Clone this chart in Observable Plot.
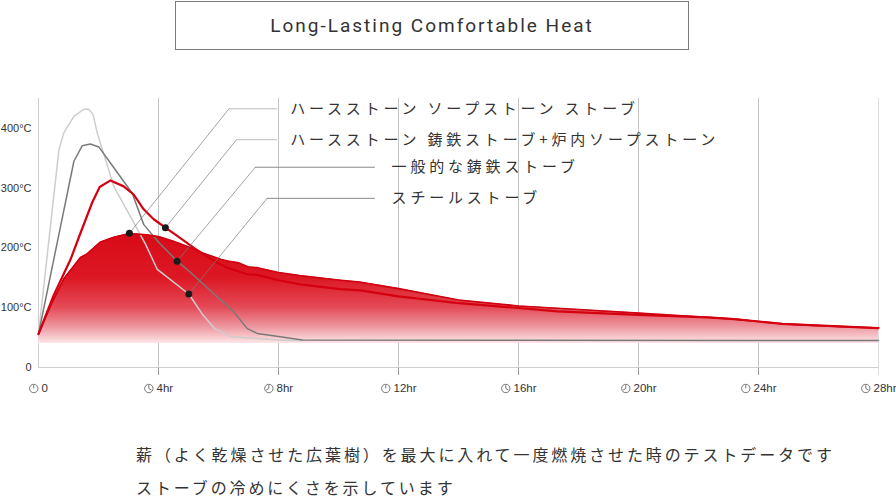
<!DOCTYPE html>
<html><head><meta charset="utf-8">
<script src="https://cdn.jsdelivr.net/npm/d3@7"></script>
<script src="https://cdn.jsdelivr.net/npm/@observablehq/plot@0.6"></script>
<style>
body{margin:0;background:#fff;width:896px;height:500px;position:relative;overflow:hidden;font-family:"Noto Sans CJK JP",sans-serif;}
#title{position:absolute;left:175px;top:1px;width:514px;height:49px;box-sizing:border-box;border:1.5px solid #7a7a7a;display:flex;align-items:center;justify-content:center;font-family:Roboto,sans-serif;font-size:19px;letter-spacing:2px;color:#333;}
#chart{position:absolute;left:0;top:60px;}
#caption{position:absolute;left:136px;top:438px;font-size:16px;letter-spacing:2.9px;line-height:33px;color:#333;white-space:nowrap;}
</style></head><body>
<div id="title">Long-Lasting Comfortable Heat</div>
<div id="chart"></div>
<div id="caption">薪（よく乾燥させた広葉樹）を最大に入れて一度燃焼させた時のテストデータです<br>ストーブの冷めにくさを示しています</div>
<script>
// ---- data (hours since lighting, °C) ----
const soapHours = [0, 0.4, 0.84, 1.4, 1.62, 2.07, 2.51, 3.03, 3.6, 4.0, 4.5, 5.1, 5.4, 6.07, 6.3, 6.68, 7.0, 7.3, 8.0, 8.7, 10.07, 10.7, 12, 14, 16, 18, 20, 22, 23.2, 24, 24.8, 26, 27, 28];
const soapTemp  = [56, 103, 148, 184, 190, 210, 218, 224, 222, 219, 211, 200, 193, 181, 178, 175, 168, 167, 159, 154, 146, 143, 132, 113, 103, 97, 91, 85, 81, 77, 73, 70, 68, 66];

const hearthHours = [0, 0.5, 1.07, 1.4, 1.79, 2.04, 2.4, 2.84, 3.18, 3.5, 3.84, 4.23, 4.6, 5.18, 5.7, 6.29, 6.96, 7.3, 8.0, 8.73, 10.07, 10.73, 12, 13.93, 16, 17.3, 20, 22.3, 23.2, 24, 24.8, 28];
const hearthTemp  = [56, 120, 181, 225, 276, 302, 313, 303, 289, 265, 248, 234, 221, 200, 183, 167, 156, 155, 146, 139, 131, 129, 119, 108, 99.5, 94, 88, 84, 81, 77, 73, 66];

const castHours = [0, 1.18, 1.46, 1.73, 2.01, 2.5, 3.12, 3.51, 4.01, 4.62, 5.07, 6.51, 6.96, 7.29, 8.0, 8.8, 28];
const castTemp  = [56, 345, 371, 374, 369, 335, 292, 239, 209, 178, 159, 93, 65, 57, 52, 46, 45];

const steelHours = [0, 0.68, 0.84, 1.18, 1.51, 1.68, 1.82, 1.96, 2.51, 3.07, 3.57, 3.96, 5.01, 5.45, 5.85, 6.4, 7.4, 8.0, 8.8];
const steelTemp  = [56, 364, 392, 420, 432, 432, 423, 392, 303, 252, 206, 164, 123, 90, 66, 52, 48, 46, 45];

const areaBase = 40;

// callouts
const calloutLabels = ["ハースストーン ソープストーン ストーブ", "ハースストーン 鋳鉄ストーブ+炉内ソープストーン", "一般的な鋳鉄ストーブ", "スチールストーブ"];
const dotX = [3.03, 4.23, 4.62, 5.01];
const dotY = [224.5, 233.8, 177.8, 122.8];
const elbowX = [6.35, 6.6, 7.23, 7.62];
const elbowY = [432.8, 381, 335, 283];
const leaderEndX = [7.94, 7.94, 11.2, 11.2];
const labelX = [8.39, 8.39, 11.77, 11.77];

// axes
const xTicks = [0, 4, 8, 12, 16, 20, 24, 28];
const xTickLabels = ["0", "4hr", "8hr", "12hr", "16hr", "20hr", "24hr", "28hr"];
const clockHand = [0, 4, 8, 0, 4, 8, 0, 4];
const yTicks = [0, 100, 200, 300, 400];
const yTickLabels = ["0", "100°C", "200°C", "300°C", "400°C"];

// ---- tables ----
const toRows = (H, T) => H.map((h, i) => ({h, t: T[i]}));
const soap = toRows(soapHours, soapTemp);
const hearth = toRows(hearthHours, hearthTemp);
const cast = toRows(castHours, castTemp);
const steel = toRows(steelHours, steelTemp);

const diag = [], horizLight = [], horizDark = [];
calloutLabels.forEach((lab, i) => {
  diag.push({x: dotX[i], y: dotY[i], k: i}, {x: elbowX[i], y: elbowY[i], k: i});
  const target = i < 2 ? horizLight : horizDark;
  target.push({x: elbowX[i], y: elbowY[i], k: i}, {x: leaderEndX[i], y: elbowY[i], k: i});
});
const callouts = calloutLabels.map((text, i) => ({text, dx: dotX[i], dy: dotY[i], lx: labelX[i], ly: elbowY[i]}));

function clockSymbol(hand) {
  return {
    draw(ctx) {
      const r = 4.2;
      ctx.moveTo(r, 0);
      ctx.arc(0, 0, r, 0, 2 * Math.PI);
      ctx.moveTo(0, 0);
      ctx.lineTo(0, -r * 0.8);
      if (hand) {
        const a = hand / 12 * 2 * Math.PI;
        ctx.moveTo(0, 0);
        ctx.lineTo(Math.sin(a) * r * 0.75, -Math.cos(a) * r * 0.75);
      }
    }
  };
}
const charW = {h: 6.12, r: 3.66};
const textWidth = s => s.split("").reduce((w, c) => w + (charW[c] || 6.12), 0);

const xLabelMarks = [];
xTicks.forEach((t, i) => {
  const label = xTickLabels[i];
  const w = 12 + textWidth(label);
  xLabelMarks.push(
    Plot.dot([{h: t}], {x: "h", y: () => 0, symbol: clockSymbol(clockHand[i]), r: 4, stroke: "#555", strokeWidth: 0.8, fill: "none", dx: -w / 2 + 4.3, dy: 21}),
    Plot.text([{h: t, label}], {x: "h", y: () => 0, text: "label", textAnchor: "start", dx: -w / 2 + 12, dy: 21, fill: "#333", fontSize: 11.5})
  );
});

const chart = Plot.plot({
  width: 896,
  height: 360,
  marginTop: 38,
  marginBottom: 53,
  marginLeft: 38,
  marginRight: 18,
  style: {fontFamily: "'Liberation Sans', Arial, sans-serif", fontSize: "11px", color: "#333", background: "transparent", overflow: "visible"},
  x: {domain: [0, 28], axis: null},
  y: {domain: [0, 450], ticks: yTicks, tickFormat: d => yTickLabels[yTicks.indexOf(d)], tickSize: 0, tickPadding: 7, label: null},
  marks: [
    Plot.ruleX(xTicks.filter(d => d > 0 && d < 28), {stroke: "#c4c4c4", strokeWidth: 1, insetBottom: -8}),
    Plot.ruleX([28], {stroke: "#dedede", strokeWidth: 1, insetBottom: -8}),
    Plot.ruleX(xTicks.filter(d => d > 0 && d < 28), {stroke: "#999", strokeWidth: 1, insetTop: 269, insetBottom: -8}),
    Plot.ruleX([0], {stroke: "#cfcfcf"}),
    Plot.ruleY([0], {stroke: "#cfcfcf"}),
    Plot.areaY(soap, {x: "h", y1: areaBase, y2: "t", fill: "url(#soapGrad)"}),
    Plot.line(steel, {x: "h", y: "t", stroke: "#cdcdcd", strokeWidth: 1.5}),
    Plot.line(cast, {x: "h", y: "t", stroke: "#7a7a7a", strokeWidth: 1.5}),
    Plot.line(soap, {x: "h", y: "t", stroke: "#cf0010", strokeWidth: 1.6}),
    Plot.line(hearth, {x: "h", y: "t", stroke: "#d5000f", strokeWidth: 2.2}),
    Plot.line(diag, {x: "x", y: "y", z: "k", stroke: "#7d7d7d", strokeWidth: 0.7}),
    Plot.line(horizLight, {x: "x", y: "y", z: "k", stroke: "#bdbdbd", strokeWidth: 1}),
    Plot.line(horizDark, {x: "x", y: "y", z: "k", stroke: "#8a8a8a", strokeWidth: 1}),
    Plot.dot(callouts, {x: "dx", y: "dy", r: 3.5, fill: "#1b1b1b"}),
    Plot.text(callouts, {x: "lx", y: "ly", text: "text", textAnchor: "start", fontSize: 15, fill: "#333", fontFamily: "'Noto Sans CJK JP', sans-serif"}),
    ...xLabelMarks
  ]
});

const ys = chart.scale("y");
const svg = d3.select(chart);
const grad = svg.insert("defs", ":first-child").append("linearGradient")
  .attr("id", "soapGrad").attr("gradientUnits", "userSpaceOnUse")
  .attr("x1", 0).attr("x2", 0).attr("y1", ys.apply(228)).attr("y2", ys.apply(areaBase));
[[0, "#d80a17"], [0.42, "#dc1824"], [0.68, "#e44a57"], [0.86, "#ee9aa2"], [1, "#fde6e8"]]
  .forEach(([o, c]) => grad.append("stop").attr("offset", o).attr("stop-color", c));
svg.selectAll("text")
  .filter(function() { return calloutLabels.includes(this.textContent); })
  .attr("letter-spacing", "3.8")
  .style("letter-spacing", "3.8px");
document.getElementById("chart").appendChild(chart);
</script>
</body></html>
